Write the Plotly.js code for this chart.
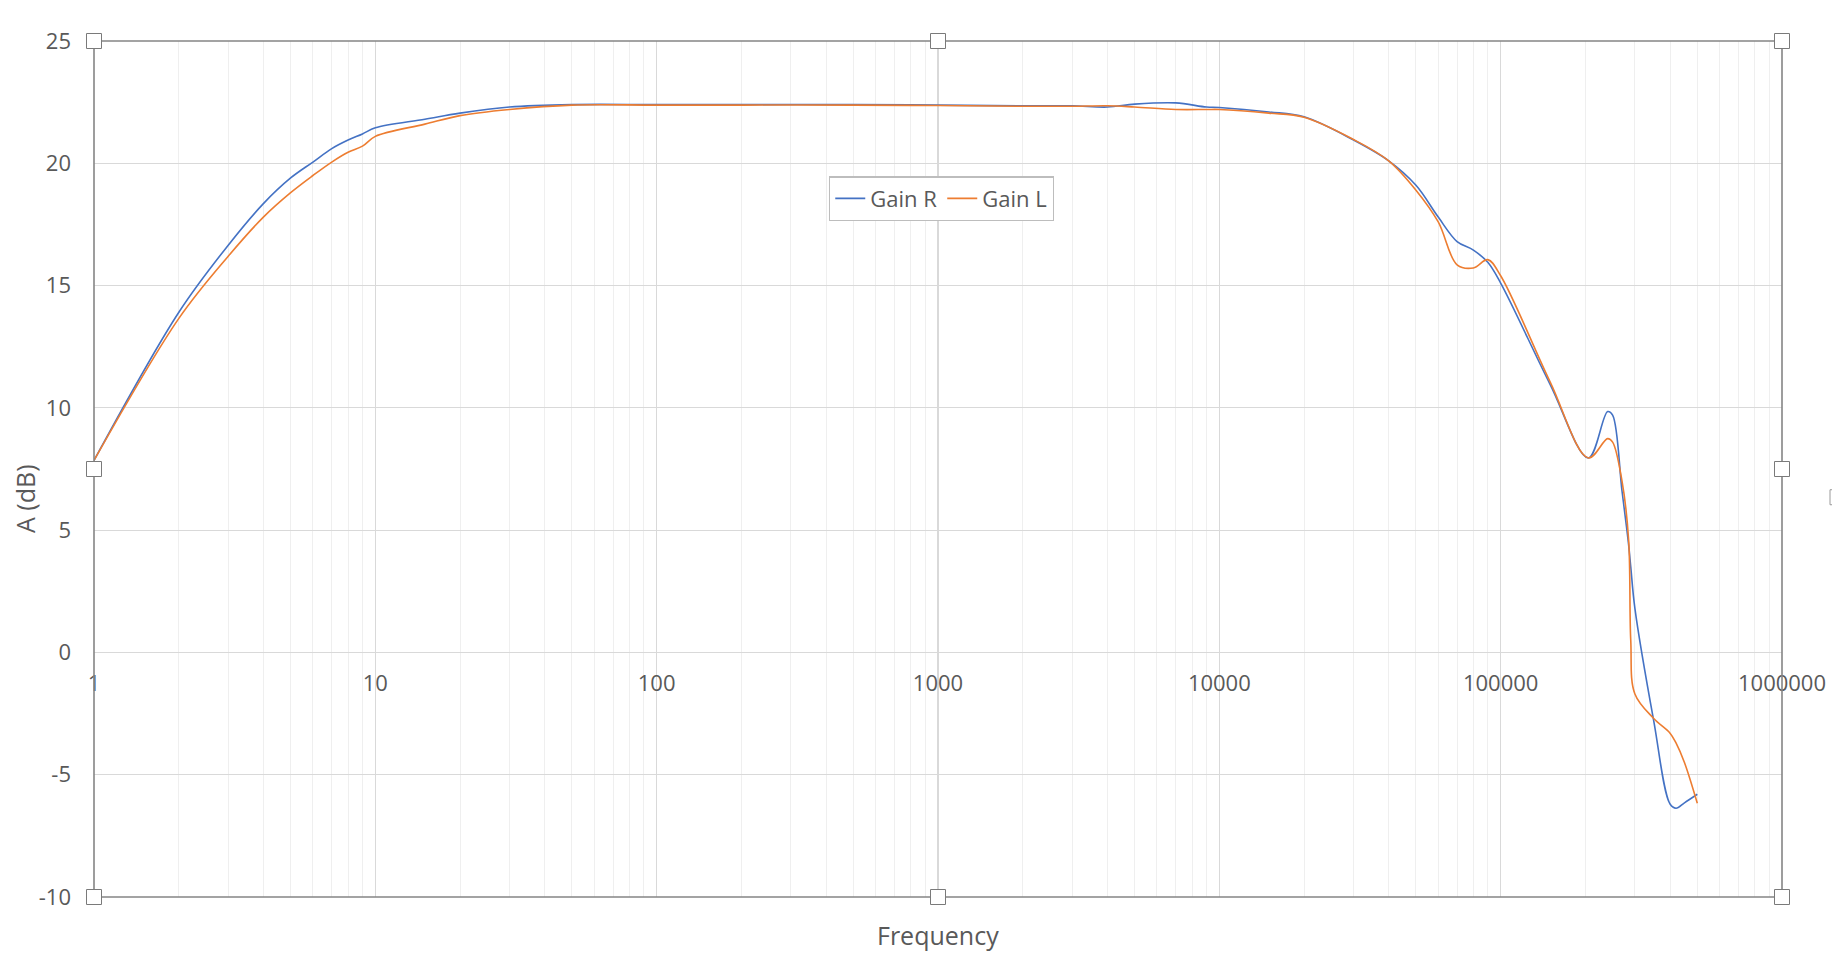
<!DOCTYPE html>
<html>
<head>
<meta charset="utf-8">
<script src="https://cdn.plot.ly/plotly-3.0.1.min.js"></script>
<style>
  html, body { margin: 0; padding: 0; background: #ffffff; }
  #chart { width: 1832px; height: 958px; }
</style>
</head>
<body>
<div id="chart"></div>
<script>
// ---- Data ----
const frequency = [1, 2, 3, 4, 5, 6, 7, 8, 9, 10, 15, 20, 30, 50, 100, 200, 500, 1000, 2000, 3000, 4000, 5000, 7000, 9000, 10000, 15000, 20000, 30000, 40000, 50000, 60000, 70000, 80000, 90000, 100000, 150000, 205000, 240000, 250000, 270000, 285000, 290000, 300000, 350000, 400000, 420000, 450000, 500000];

const gainR = [7.85, 13.9, 16.65, 18.35, 19.4, 20.05, 20.6, 20.95, 21.2, 21.45, 21.8, 22.05, 22.3, 22.4, 22.4, 22.4, 22.4, 22.38, 22.35, 22.35, 22.3, 22.42, 22.47, 22.3, 22.28, 22.1, 21.9, 20.95, 20.1, 19.1, 17.8, 16.8, 16.45, 15.95, 15.1, 10.95, 7.95, 9.85, 9.7, 6.6, 4.4, 3.5, 1.8, -2.8, -6.2, -6.37, -6.15, -5.8];

const gainL = [7.85, 13.65, 16.2, 17.8, 18.8, 19.5, 20.05, 20.45, 20.7, 21.1, 21.6, 21.95, 22.2, 22.38, 22.38, 22.38, 22.38, 22.36, 22.33, 22.33, 22.35, 22.3, 22.2, 22.2, 22.2, 22.05, 21.88, 20.97, 20.1, 18.9, 17.6, 15.85, 15.72, 16.06, 15.4, 11.05, 7.95, 8.74, 8.6, 7.0, 4.6, 0.5, -1.7, -2.7, -3.3, -3.7, -4.5, -6.17];

const seriesNames = ["Gain R", "Gain L"];
const xTickVals = [1, 10, 100, 1000, 10000, 100000, 1000000];
const xTickText = ["1", "10", "100", "1000", "10000", "100000", "1000000"];
const yTickVals = [-10, -5, 0, 5, 10, 15, 20, 25];
const yTickText = ["-10", "-5", "0", "5", "10", "15", "20", "25"];
const xTitle = "Frequency";
const yTitle = "A (dB)";

// ---- Styling ----
const FONT = "Open Sans, Lato, sans-serif";
const TXT = "#595959";
const yMin = -10, yMax = 25;

const traces = [
  { x: frequency, y: gainR, name: seriesNames[0], type: "scatter", mode: "lines",
    line: { color: "#4472C4", width: 1.6, shape: "spline", smoothing: 1 } },
  { x: frequency, y: gainL, name: seriesNames[1], type: "scatter", mode: "lines",
    line: { color: "#ED7D31", width: 1.6, shape: "spline", smoothing: 1 } }
];

// selection handles around the plot area
const handlePos = [[0,0],[0.5,0],[1,0],[0,0.5],[1,0.5],[0,1],[0.5,1],[1,1]];
const shapes = [
  { type: "rect", xref: "paper", yref: "paper", x0: 0, x1: 1, y0: 0, y1: 1,
    line: { color: "#858585", width: 1.6 }, fillcolor: "rgba(0,0,0,0)", layer: "above" }
];
handlePos.forEach(p => {
  shapes.push({ type: "rect", xref: "paper", yref: "paper",
    xsizemode: "pixel", ysizemode: "pixel", xanchor: p[0], yanchor: p[1],
    x0: -7.5, x1: 7.5, y0: -7.5, y1: 7.5,
    line: { color: "#7a7a7a", width: 1 }, fillcolor: "#ffffff", layer: "above" });
});
// partially visible handle at far right edge
shapes.push({ type: "rect", xref: "paper", yref: "paper",
  xsizemode: "pixel", ysizemode: "pixel", xanchor: 1, yanchor: 0.467,
  x0: 48, x1: 63, y0: -7.5, y1: 7.5,
  line: { color: "#9a9a9a", width: 1 }, fillcolor: "#ffffff", layer: "above" });

const layout = {
  width: 1832, height: 958,
  margin: { l: 94, r: 50, t: 41, b: 61, pad: 0 },
  paper_bgcolor: "#ffffff", plot_bgcolor: "#ffffff",
  font: { family: FONT, size: 22, color: TXT },
  showlegend: true,
  legend: {
    orientation: "h", x: 0.4354, y: 0.842, xanchor: "left", yanchor: "top",
    bgcolor: "#ffffff", bordercolor: "#bdbdbd", borderwidth: 1.3,
    font: { family: FONT, size: 22, color: TXT },
    itemwidth: 30, tracegroupgap: 0
  },
  xaxis: {
    type: "log", range: [0, 6],
    anchor: "free", position: (0 - yMin) / (yMax - yMin),
    showline: false, zeroline: false,
    tickmode: "array", tickvals: xTickVals, ticktext: xTickText,
    ticks: "", ticklabelstandoff: 16,
    tickfont: { family: FONT, size: 22, color: TXT },
    showgrid: true, gridcolor: "#d9d9d9", gridwidth: 1.2,
    minor: { dtick: "D1", showgrid: true, gridcolor: "#efefef", gridwidth: 1, ticks: "" }
  },
  yaxis: {
    range: [yMin, yMax],
    tickmode: "array", tickvals: yTickVals, ticktext: yTickText,
    showline: false, zeroline: false, ticks: "", ticklabelstandoff: 22,
    tickfont: { family: FONT, size: 22, color: TXT },
    showgrid: true, gridcolor: "#d9d9d9", gridwidth: 1.2
  },
  annotations: [
    { text: xTitle, xref: "paper", yref: "paper", x: 0.5, y: 0, yshift: -38,
      xanchor: "center", yanchor: "middle", showarrow: false,
      font: { family: FONT, size: 25, color: TXT } },
    { text: yTitle, xref: "paper", yref: "paper", x: 0, xshift: -69, y: 0.465,
      xanchor: "center", yanchor: "middle", showarrow: false, textangle: -90,
      font: { family: FONT, size: 25, color: TXT } }
  ],
  shapes: shapes
};

Plotly.newPlot("chart", traces, layout, { displayModeBar: false, staticPlot: true });
</script>
</body>
</html>
